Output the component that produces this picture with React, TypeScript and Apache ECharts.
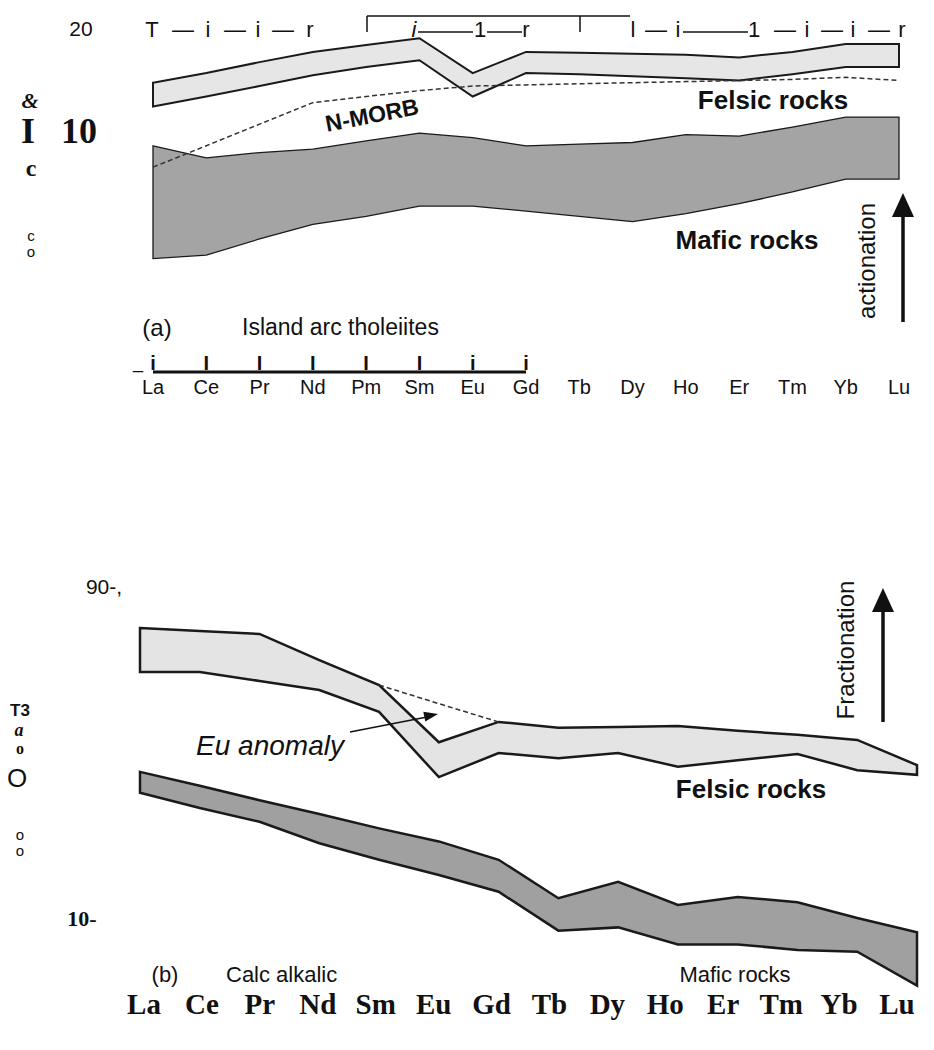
import React, { useEffect, useRef } from "react";
import * as echarts from "echarts";

// ---------- panel (a): Island arc tholeiites ----------
const topElements = ["La", "Ce", "Pr", "Nd", "Pm", "Sm", "Eu", "Gd", "Tb", "Dy", "Ho", "Er", "Tm", "Yb", "Lu"];
const topFelsicUpper = [13.9, 14.8, 15.9, 17.0, 17.8, 18.6, 14.8, 17.0, 16.9, 16.8, 16.7, 16.4, 17.0, 17.9, 17.9];
const topFelsicLower = [11.9, 12.7, 13.6, 14.6, 15.4, 16.1, 12.7, 14.8, 14.7, 14.5, 14.3, 14.1, 14.7, 15.4, 15.4];
const topMaficUpper = [9.2, 8.5, 8.8, 9.0, 9.5, 10.0, 9.7, 9.2, 9.3, 9.4, 9.9, 9.8, 10.4, 11.1, 11.1];
const topMaficLower = [4.4, 4.5, 5.0, 5.5, 5.8, 6.2, 6.2, 6.0, 5.8, 5.6, 5.9, 6.3, 6.8, 7.4, 7.4];
const nMorb = [8.0, 9.2, 10.6, 12.2, 12.7, 13.2, 13.6, 13.7, 13.8, 13.9, 14.0, 14.1, 14.2, 14.4, 14.1];
const topTickGlyphs = ["i", "I", "I", "I", "I", "I", "i", "i"];

// ---------- panel (b): Calc alkalic ----------
const bottomElements = ["La", "Ce", "Pr", "Nd", "Sm", "Eu", "Gd", "Tb", "Dy", "Ho", "Er", "Tm", "Yb", "Lu"];
const botFelsicUpper = [68.1, 66.8, 65.5, 55.1, 46.7, 32.0, 36.6, 35.2, 35.4, 35.6, 34.5, 33.6, 32.5, 27.5];
const botFelsicLower = [50.9, 50.9, 48.0, 45.2, 39.1, 25.4, 29.8, 28.8, 29.8, 27.2, 28.4, 29.6, 26.6, 25.8];
const botMaficUpper = [26.3, 24.0, 21.8, 19.9, 18.1, 16.6, 14.7, 11.4, 12.7, 10.9, 11.5, 11.1, 10.0, 9.1];
const botMaficLower = [22.9, 20.7, 18.9, 16.4, 14.7, 13.3, 11.9, 9.2, 9.4, 8.4, 8.4, 8.1, 8.0, 6.4];
const euTrend = [null, null, null, null, 46.7, 41.3, 36.6, null, null, null, null, null, null, null];

const SANS = '"Liberation Sans", Arial, sans-serif';
const SERIF = '"Liberation Serif", "Times New Roman", serif';

function band(axisIdx: number, upper: number[], lower: number[], fill: string, lw: number) {
  const n = upper.length;
  return {
    type: "custom",
    xAxisIndex: axisIdx,
    yAxisIndex: axisIdx,
    silent: true,
    z: 2,
    data: [[0, ...upper, ...lower]],
    renderItem: (_p: any, api: any) => {
      const pts: number[][] = [];
      for (let i = 0; i < n; i++) pts.push(api.coord([i, api.value(1 + i)]));
      for (let i = n - 1; i >= 0; i--) pts.push(api.coord([i, api.value(1 + n + i)]));
      return {
        type: "polygon",
        shape: { points: pts },
        style: { fill, stroke: "#1a1a1a", lineWidth: lw, lineJoin: "miter" },
      };
    },
  };
}

function txt(text: string, x: number, y: number, font: string, extra: any = {}) {
  const { style, ...rest } = extra;
  return {
    type: "text",
    x,
    y,
    silent: true,
    z: 10,
    ...rest,
    style: { text, font, fill: "#111", align: "center", verticalAlign: "middle", ...(style || {}) },
  };
}

function line(x1: number, y1: number, x2: number, y2: number, w = 2) {
  return { type: "line", silent: true, z: 10, shape: { x1, y1, x2, y2 }, style: { stroke: "#111", lineWidth: w } };
}

function poly(points: number[][]) {
  return { type: "polygon", silent: true, z: 10, shape: { points }, style: { fill: "#111" } };
}

const staticGraphics: any[] = [
  // panel (a) garbled top scale row
  txt("20", 81, 28, `21px ${SANS}`),
  txt("T", 152, 29, `22px ${SANS}`),
  txt("—", 183, 29, `22px ${SANS}`),
  txt("i", 208, 29, `22px ${SANS}`),
  txt("—", 235, 29, `22px ${SANS}`),
  txt("i", 258, 29, `22px ${SANS}`),
  txt("—", 283, 29, `22px ${SANS}`),
  txt("r", 310, 29, `22px ${SANS}`),
  line(367, 16, 630, 16, 1.5),
  line(367, 16, 367, 32, 1.5),
  line(580, 16, 580, 32, 1.5),
  txt("i", 414, 29, `italic 22px ${SANS}`),
  line(418, 32, 473, 32, 1.5),
  txt("1", 480, 29, `22px ${SANS}`),
  line(487, 32, 522, 32, 1.5),
  txt("r", 526, 29, `22px ${SANS}`),
  txt("l", 633, 29, `22px ${SANS}`),
  txt("—", 656, 29, `22px ${SANS}`),
  txt("i", 678, 29, `22px ${SANS}`),
  line(683, 32, 748, 32, 1.5),
  txt("1", 754, 29, `22px ${SANS}`),
  txt("—", 785, 29, `22px ${SANS}`),
  txt("i", 807, 29, `22px ${SANS}`),
  txt("—", 832, 29, `22px ${SANS}`),
  txt("i", 853, 29, `22px ${SANS}`),
  txt("—", 879, 29, `22px ${SANS}`),
  txt("r", 902, 29, `22px ${SANS}`),
  // panel (a) garbled y-axis title / labels
  txt("&", 30, 100, `bold italic 22px ${SERIF}`),
  txt("I", 28, 131, `bold 36px ${SERIF}`),
  txt("10", 79, 131, `bold 36px ${SERIF}`),
  txt("c", 31, 168, `bold 24px ${SERIF}`),
  txt("c", 31, 235.5, `15px ${SANS}`),
  txt("o", 31, 251.5, `15px ${SANS}`),
  // panel (a) annotations
  txt("N-MORB", 372, 115, `bold 23px ${SANS}`, { rotation: 0.19 }),
  txt("Felsic rocks", 773, 100, `bold 26px ${SANS}`),
  txt("Mafic rocks", 747, 240, `bold 26px ${SANS}`),
  txt("actionation", 866, 261, `24px ${SANS}`, { rotation: Math.PI / 2 }),
  line(903, 322, 903, 212, 3.5),
  poly([[892, 217], [914, 217], [903, 193]]),
  txt("(a)", 157, 327, `24px ${SANS}`),
  txt("Island arc tholeiites", 242, 327, `23px ${SANS}`, { style: { align: "left" } }),
  // panel (b) garbled y-axis
  txt("90-,", 104, 586, `21px ${SANS}`),
  txt("T3", 20, 710, `bold 17px ${SANS}`),
  txt("a", 19, 730, `bold italic 18px ${SERIF}`),
  txt("o", 20, 748, `bold 16px ${SERIF}`),
  txt("O", 17, 778, `26px ${SANS}`),
  txt("o", 20, 834, `15px ${SANS}`),
  txt("o", 20, 850, `15px ${SANS}`),
  txt("10-", 82, 918, `bold 22px ${SERIF}`),
  // panel (b) annotations
  txt("Fractionation", 845, 650, `24px ${SANS}`, { rotation: Math.PI / 2 }),
  line(883, 722, 883, 607, 3.5),
  poly([[872, 612], [894, 612], [883, 588]]),
  txt("Eu anomaly", 270, 745, `italic 28px ${SANS}`),
  line(350, 732, 427, 717, 1.5),
  poly([[425.3, 721.6], [423.3, 711.8], [438, 714]]),
  txt("Felsic rocks", 751, 789, `bold 26px ${SANS}`),
  txt("(b)", 165, 974, `22px ${SANS}`),
  txt("Calc alkalic", 226, 974, `22px ${SANS}`, { style: { align: "left" } }),
  txt("Mafic rocks", 735, 974, `22px ${SANS}`),
];

export default function App() {
  const ref = useRef<HTMLDivElement>(null);
  useEffect(() => {
    if (!ref.current) return;
    const chart = echarts.init(ref.current, undefined, { renderer: "svg" });
    const hidden = { show: false };
    chart.setOption({
      animation: false,
      backgroundColor: "#ffffff",
      grid: [
        { left: 153, width: 746, top: 12.5, height: 260.6 },
        { left: 140, width: 777, top: 570, height: 452.8 },
        { left: 144, width: 753, top: 988, height: 1 },
      ],
      xAxis: [
        {
          gridIndex: 0,
          type: "category",
          data: topElements,
          boundaryGap: false,
          axisLine: hidden,
          axisTick: hidden,
          splitLine: hidden,
          axisLabel: { margin: 104, fontSize: 20, fontFamily: SANS, color: "#111", interval: 0 },
        },
        { gridIndex: 1, type: "category", data: bottomElements, boundaryGap: false, show: false },
        {
          gridIndex: 2,
          type: "category",
          data: bottomElements,
          boundaryGap: false,
          axisLine: hidden,
          axisTick: hidden,
          splitLine: hidden,
          axisLabel: { margin: 0, fontSize: 29, fontWeight: "bold", fontFamily: SERIF, color: "#111", interval: 0 },
        },
      ],
      yAxis: [
        { gridIndex: 0, type: "log", logBase: 10, min: 4, max: 22, show: false },
        { gridIndex: 1, type: "log", logBase: 10, min: 5, max: 100, show: false },
        { gridIndex: 2, type: "value", show: false },
      ],
      series: [
        band(0, topFelsicUpper, topFelsicLower, "#e6e6e6", 2),
        band(0, topMaficUpper, topMaficLower, "#a4a4a4", 1.3),
        {
          type: "line",
          xAxisIndex: 0,
          yAxisIndex: 0,
          data: nMorb,
          symbol: "none",
          silent: true,
          z: 4,
          lineStyle: { color: "#333", width: 1.5, type: [5, 3] },
        },
        band(1, botFelsicUpper, botFelsicLower, "#e4e4e4", 2.5),
        band(1, botMaficUpper, botMaficLower, "#a0a0a0", 2.5),
        {
          type: "line",
          xAxisIndex: 1,
          yAxisIndex: 1,
          data: euTrend,
          symbol: "none",
          silent: true,
          connectNulls: false,
          z: 4,
          lineStyle: { color: "#333", width: 1.5, type: [5, 3] },
        },
      ],
    });

    // garbled axis-tick row under panel (a), placed on the category positions
    const xs = topTickGlyphs.map((_, i) => chart.convertToPixel({ xAxisIndex: 0 }, i) as number);
    const tickRow: any[] = [
      txt("_", 138, 362, `18px ${SANS}`),
      line(xs[0], 372, xs[xs.length - 1], 372, 3),
      ...topTickGlyphs.map((g, i) => txt(g, xs[i], 363, `bold 20px ${SANS}`)),
    ];
    chart.setOption({ graphic: [...staticGraphics, ...tickRow] });

    return () => chart.dispose();
  }, []);
  return (
    <div
      ref={ref}
      style={{ position: "fixed", left: 0, top: 0, width: 934, height: 1050, background: "#fff" }}
    />
  );
}
